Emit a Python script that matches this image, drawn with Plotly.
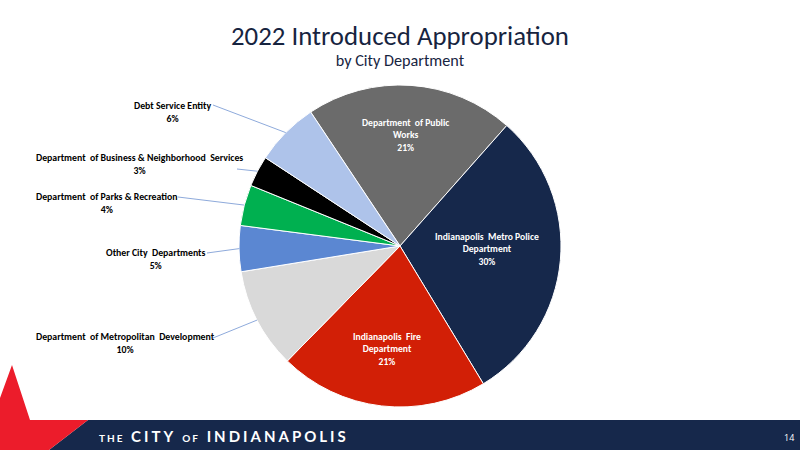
import math
import plotly.graph_objects as go

# ---- data ----
departments = [
    "Department of Public Works",
    "Indianapolis Metro Police Department",
    "Indianapolis Fire Department",
    "Department of Metropolitan Development",
    "Other City Departments",
    "Department of Parks & Recreation",
    "Department of Business & Neighborhood Services",
    "Debt Service Entity",
]
shares = [20.9, 29.8, 21.0, 10.1, 4.6, 4.1, 3.1, 6.4]
pct_labels = ["21%", "30%", "21%", "10%", "5%", "4%", "3%", "6%"]
label_lines = [
    "Department  of Public<br>Works",
    "Indianapolis  Metro Police<br>Department",
    "Indianapolis  Fire<br>Department",
    "Department  of Metropolitan  Development",
    "Other City  Departments",
    "Department  of Parks & Recreation",
    "Department  of Business & Neighborhood  Services",
    "Debt Service Entity",
]
colors = ["#6b6b6b", "#16284b", "#d21f06", "#d9d9d9", "#5b87d2", "#00b050", "#000000", "#aec3ea"]

W, H = 800, 450
ROT = -33.7
# pie geometry (pixels)
CX, CY, R = 400, 246, 161
dom_y = [(H - (CY + R)) / H, (H - (CY - R)) / H]

fig = go.Figure(go.Pie(
    labels=departments, values=shares, sort=False, direction="clockwise",
    rotation=ROT, marker=dict(colors=colors, line=dict(color="white", width=1)),
    textinfo="none", hoverinfo="label+percent", showlegend=False,
    domain=dict(x=[0, 1], y=dom_y),
))

LABEL_FONT = "Carlito, Calibri, Lato, sans-serif"

# inside labels (white) - positions in pixels
inside_pos = {0: (406, 135), 1: (487, 249), 2: (387, 349)}
# outside labels: (text center x, first-line y, leader start x, leader start y)
outside_pos = {
    7: (172, 104, 213, 105),
    6: (139, 156, 237, 169),
    5: (106, 195, 178, 197),
    4: (156, 251, 207, 253),
    3: (125, 335, 213, 338),
}

def px(x):
    return x / W

def py(y):
    return 1 - y / H

annotations = []
shapes = []
total = sum(shares)
start = ROT
mids = []
for v in shares:
    span = v / total * 360
    mids.append(start + span / 2)
    start += span

for i, (xp, yp) in inside_pos.items():
    annotations.append(dict(
        x=px(xp), y=py(yp), xref="paper", yref="paper", showarrow=False,
        text="<b>" + label_lines[i] + "<br>" + pct_labels[i] + "</b>",
        font=dict(family=LABEL_FONT, size=9.6, color="white"), align="center",
        xanchor="center", yanchor="middle",
    ))

for i, (tx, ty, lx, ly) in outside_pos.items():
    annotations.append(dict(
        x=px(tx), y=py(ty - 6.5), xref="paper", yref="paper", showarrow=False,
        text="<b>" + label_lines[i] + "<br>" + pct_labels[i] + "</b>",
        font=dict(family=LABEL_FONT, size=9.8, color="black"), align="center",
        xanchor="center", yanchor="top",
    ))
    a = math.radians(mids[i])
    ex, ey = CX + R * math.sin(a), CY - R * math.cos(a)
    shapes.append(dict(type="line", xref="paper", yref="paper",
                       x0=px(lx), y0=py(ly), x1=px(ex), y1=py(ey),
                       line=dict(color="#8eaadb", width=1)))

# title + subtitle (one text block)
annotations.append(dict(
    x=0.5, y=py(45), xref="paper", yref="paper", showarrow=False,
    text=("<span style='font-size:26.8px'>2022 Introduced Appropriation</span><br>"
          "<span style='font-size:16.2px'>by City Department</span>"),
    font=dict(family=LABEL_FONT, size=16.2, color="#17243f"), align="center",
    xanchor="center", yanchor="middle"))

# footer band and red accent
shapes.append(dict(type="path", xref="paper", yref="paper",
                   path=f"M {px(88)},{py(420)} L 1,{py(420)} L 1,0 L {px(49)},0 Z",
                   fillcolor="#16284b", line=dict(width=0), layer="above"))
shapes.append(dict(type="path", xref="paper", yref="paper",
                   path=(f"M 0,{py(398)} L {px(12)},{py(365)} L {px(30)},{py(420)} "
                         f"L {px(88)},{py(420)} L {px(49)},0 L 0,0 Z"),
                   fillcolor="#ec1c2b", line=dict(width=0), layer="above"))

annotations.append(dict(
    x=px(97), y=py(435.5), xref="paper", yref="paper", showarrow=False,
    text=("<b><span style='font-size:10px;letter-spacing:2px'>THE</span>"
          "<span style='letter-spacing:3px'> CITY </span>"
          "<span style='font-size:10px;letter-spacing:2px'>OF</span>"
          "<span style='letter-spacing:3px'> INDIANAPOLIS</span></b>"),
    font=dict(family="Lato, Open Sans, sans-serif", size=15, color="white"),
    xanchor="left", yanchor="middle"))
annotations.append(dict(x=px(789), y=py(437), xref="paper", yref="paper", showarrow=False,
                        text="14", font=dict(family="Open Sans, sans-serif", size=9, color="white"),
                        xanchor="center", yanchor="middle"))

fig.update_layout(
    width=W, height=H, margin=dict(l=0, r=0, t=0, b=0),
    paper_bgcolor="white", plot_bgcolor="white",
    annotations=annotations, shapes=shapes,
)

fig.write_html("out.html")
